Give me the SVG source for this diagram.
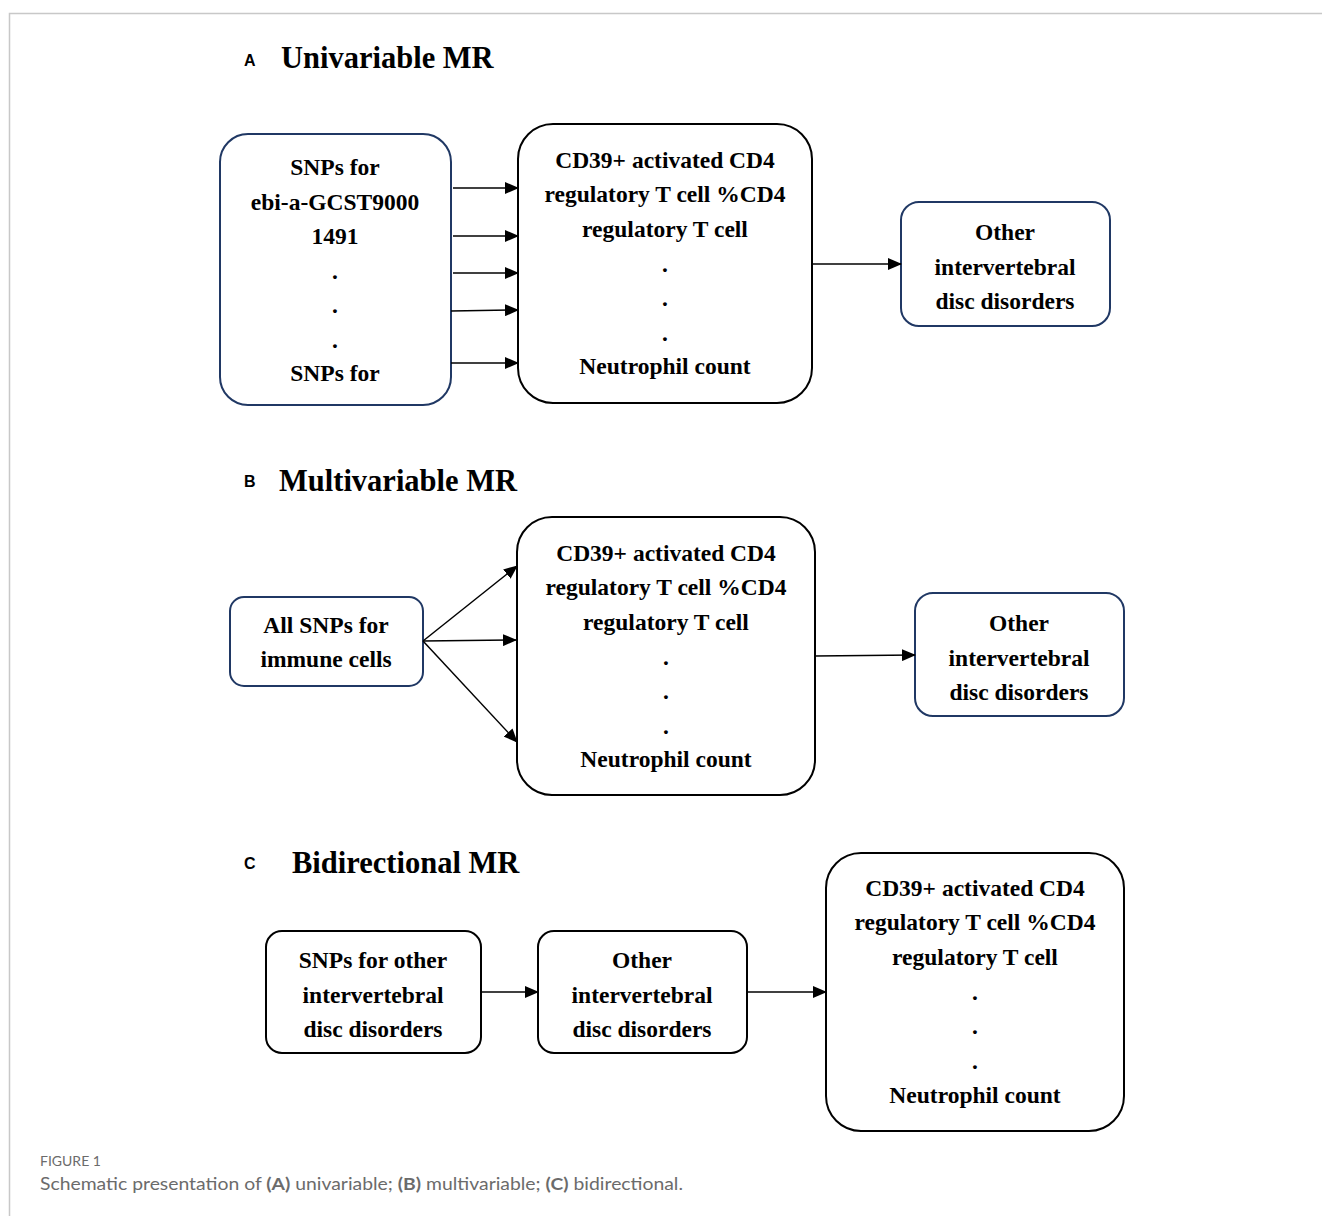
<svg xmlns="http://www.w3.org/2000/svg" width="1322" height="1216" viewBox="0 0 1322 1216">
<style>
.bg{fill:#fff}
.frame{stroke:#c8c8c8;stroke-width:1.5;fill:none}
.blue{fill:#fff;stroke:#203864;stroke-width:2}
.black{fill:#fff;stroke:#000;stroke-width:2}
.t{font-family:"Liberation Serif","Times New Roman",serif;font-weight:bold;font-size:23.5px;fill:#000;text-anchor:middle}
.h{font-family:"Liberation Serif","Times New Roman",serif;font-weight:bold;font-size:30.5px;fill:#000}
.lab{font-family:"Liberation Sans",Arial,sans-serif;font-weight:bold;font-size:16px;fill:#000}
.conn line{stroke:#000;stroke-width:1.5;marker-end:url(#arr)}
.cap{font-family:"Lato","Liberation Sans",sans-serif;fill:#6b6b6b}
</style>
<defs>
<marker id="arr" markerUnits="userSpaceOnUse" markerWidth="14" markerHeight="12" refX="13" refY="6" orient="auto">
<path d="M0,0 L14,6 L0,12 Z" fill="#000"/>
</marker>
</defs>
<rect class="bg" x="0" y="0" width="1322" height="1216"/>
<path class="frame" d="M9.5,1216 V13.5 H1322"/>

<g id="titles">
<text class="lab" x="244" y="66">A</text>
<text class="h" x="281" y="68">Univariable MR</text>
<text class="lab" x="244" y="487">B</text>
<text class="h" x="279" y="491">Multivariable MR</text>
<text class="lab" x="244" y="869">C</text>
<text class="h" x="292" y="873">Bidirectional MR</text>
</g>

<g id="a-snps">
<rect class="blue" x="220" y="134" width="231" height="271" rx="28"/>
<text class="t" x="335" y="175">SNPs for</text>
<text class="t" x="335" y="210">ebi-a-GCST9000</text>
<text class="t" x="335" y="244">1491</text>
<text class="t" x="335" y="279">.</text>
<text class="t" x="335" y="313">.</text>
<text class="t" x="335" y="348">.</text>
<text class="t" x="335" y="381">SNPs for</text>
</g>
<g id="a-cells">
<rect class="black" x="518" y="124" width="294" height="279" rx="35"/>
<text class="t" x="665" y="168">CD39+ activated CD4</text>
<text class="t" x="665" y="202">regulatory T cell %CD4</text>
<text class="t" x="665" y="237">regulatory T cell</text>
<text class="t" x="665" y="272">.</text>
<text class="t" x="665" y="306">.</text>
<text class="t" x="665" y="341">.</text>
<text class="t" x="665" y="374">Neutrophil count</text>
</g>
<g id="a-disc">
<rect class="blue" x="901" y="202" width="209" height="124" rx="18"/>
<text class="t" x="1005" y="240">Other</text>
<text class="t" x="1005" y="275">intervertebral</text>
<text class="t" x="1005" y="309">disc disorders</text>
</g>

<g id="b-snps">
<rect class="blue" x="230" y="597" width="193" height="89" rx="14"/>
<text class="t" x="326" y="633">All SNPs for</text>
<text class="t" x="326" y="667">immune cells</text>
</g>
<g id="b-cells">
<rect class="black" x="517" y="517" width="298" height="278" rx="35"/>
<text class="t" x="666" y="561">CD39+ activated CD4</text>
<text class="t" x="666" y="595">regulatory T cell %CD4</text>
<text class="t" x="666" y="630">regulatory T cell</text>
<text class="t" x="666" y="665">.</text>
<text class="t" x="666" y="699">.</text>
<text class="t" x="666" y="734">.</text>
<text class="t" x="666" y="767">Neutrophil count</text>
</g>
<g id="b-disc">
<rect class="blue" x="915" y="593" width="209" height="123" rx="18"/>
<text class="t" x="1019" y="631">Other</text>
<text class="t" x="1019" y="666">intervertebral</text>
<text class="t" x="1019" y="700">disc disorders</text>
</g>

<g id="c-snps">
<rect class="black" x="266" y="931" width="215" height="122" rx="16"/>
<text class="t" x="373" y="968">SNPs for other</text>
<text class="t" x="373" y="1003">intervertebral</text>
<text class="t" x="373" y="1037">disc disorders</text>
</g>
<g id="c-disc">
<rect class="black" x="538" y="931" width="209" height="122" rx="16"/>
<text class="t" x="642" y="968">Other</text>
<text class="t" x="642" y="1003">intervertebral</text>
<text class="t" x="642" y="1037">disc disorders</text>
</g>
<g id="c-cells">
<rect class="black" x="826" y="853" width="298" height="278" rx="35"/>
<text class="t" x="975" y="896">CD39+ activated CD4</text>
<text class="t" x="975" y="930">regulatory T cell %CD4</text>
<text class="t" x="975" y="965">regulatory T cell</text>
<text class="t" x="975" y="1000">.</text>
<text class="t" x="975" y="1034">.</text>
<text class="t" x="975" y="1069">.</text>
<text class="t" x="975" y="1103">Neutrophil count</text>
</g>

<g id="connectors" class="conn">
<line x1="453" y1="188" x2="518" y2="188"/>
<line x1="453" y1="236" x2="518" y2="236"/>
<line x1="453" y1="273" x2="518" y2="273"/>
<line x1="451" y1="311" x2="518" y2="310"/>
<line x1="451" y1="363" x2="518" y2="363"/>
<line x1="812" y1="264" x2="901" y2="264"/>
<line x1="423" y1="641" x2="517" y2="566"/>
<line x1="423" y1="641" x2="516" y2="640"/>
<line x1="423" y1="641" x2="517" y2="742"/>
<line x1="815" y1="656" x2="915" y2="655"/>
<line x1="481" y1="992" x2="538" y2="992"/>
<line x1="747" y1="992" x2="826" y2="992"/>
</g>

<g id="caption">
<text class="cap" x="40" y="1166" font-size="14">FIGURE 1</text>
<text class="cap" x="40" y="1190" font-size="17" textLength="643" lengthAdjust="spacingAndGlyphs">Schematic presentation of <tspan font-weight="bold">(A)</tspan> univariable; <tspan font-weight="bold">(B)</tspan> multivariable; <tspan font-weight="bold">(C)</tspan> bidirectional.</text>
</g>
</svg>
